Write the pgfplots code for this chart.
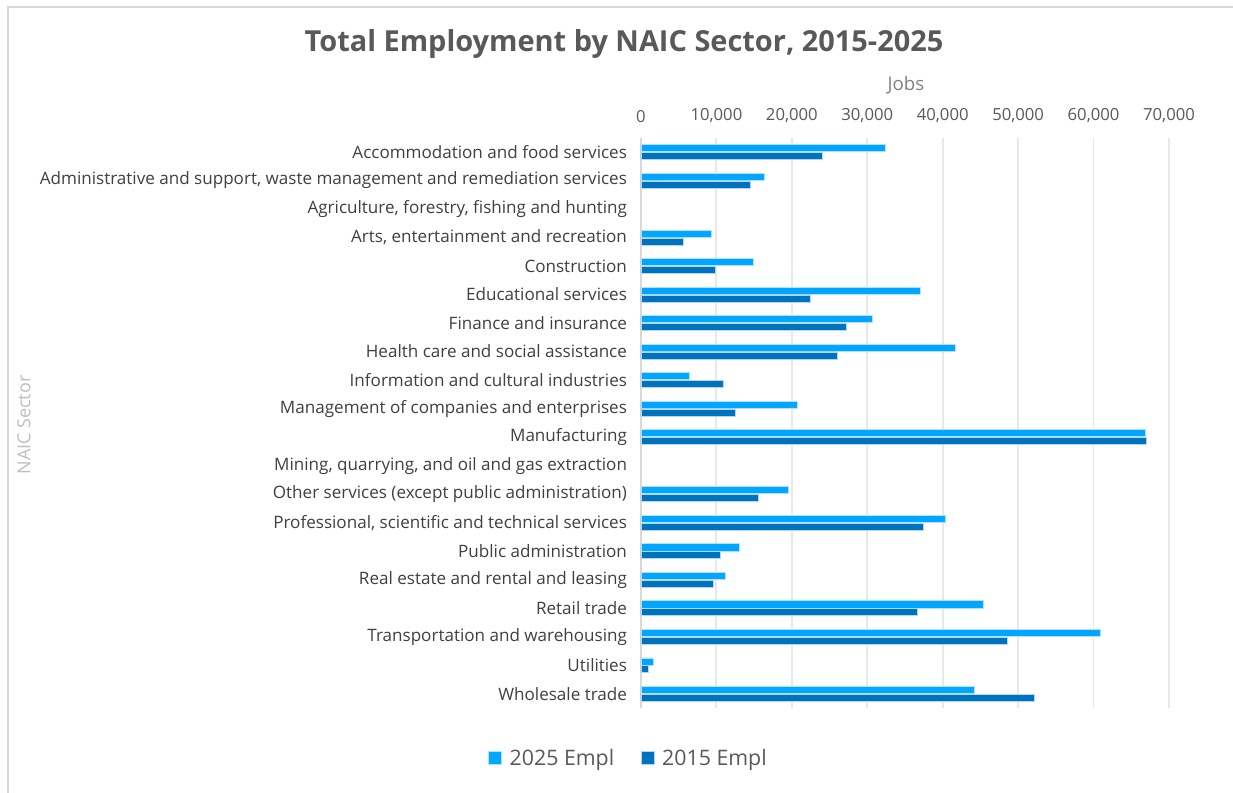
\documentclass[border=0pt]{standalone}
\usepackage{pgfplots}
\pgfplotsset{compat=1.18}
\usepackage{pgfplotstable}
\usepackage{fontspec}
\setmainfont{Open Sans}
\definecolor{lightbar}{RGB}{0,166,255}
\definecolor{darkbar}{RGB}{0,115,190}
\definecolor{labgray}{RGB}{64,64,64}
\definecolor{tickgray}{RGB}{89,89,89}
\definecolor{jobsgray}{RGB}{128,128,128}
\definecolor{sectorgray}{RGB}{191,191,191}
\definecolor{gridgray}{RGB}{232,232,232}
\definecolor{framegray}{RGB}{217,217,217}

\pgfplotstableread{
idx y2025 y2015
0 32420 23980
1 16340 14520
3 9310 5560
4 14870 9910
5 37030 22460
6 30700 27160
7 41730 26000
8 6370 10930
9 20740 12490
10 66870 67020
12 19580 15530
13 40310 37430
14 13000 10570
15 11130 9560
16 45420 36620
17 60950 48610
18 1670 960
19 44210 52150
}\datatable

\begin{document}
\begin{tikzpicture}
\useasboundingbox (0,0) rectangle (924.75pt,594.75pt);
\fill[white] (0,0) rectangle (924.75pt,594.75pt);
\draw[framegray, line width=1.6pt] (5.8pt,0) -- (5.8pt,589.4pt) -- (924.75pt,589.4pt);
\begin{axis}[
  at={(480.75pt,63.75pt)}, anchor=south west,
  scale only axis, width=396pt, height=427.7pt,
  xbar, bar width=5.3pt,
  xmin=0, xmax=70000, ymin=-0.5, ymax=19.5,
  y dir=reverse,
  axis x line*=top, axis y line*=left,
  x axis line style={draw=none},
  y axis line style={draw=framegray, line width=1.5pt, -},
  xtick={0,10000,...,70000},
  ytick={0,...,19},
  yticklabels={{Accommodation and food services},{Administrative and support, waste management and remediation services},{Agriculture, forestry, fishing and hunting},{Arts, entertainment and recreation},{Construction},{Educational services},{Finance and insurance},{Health care and social assistance},{Information and cultural industries},{Management of companies and enterprises},{Manufacturing},{Mining, quarrying, and oil and gas extraction},{Other services (except public administration)},{Professional, scientific and technical services},{Public administration},{Real estate and rental and leasing},{Retail trade},{Transportation and warehousing},{Utilities},{Wholesale trade}},
  major tick length=0pt,
  xmajorgrids, grid style={gridgray, line width=1.4pt},
  scaled x ticks=false,
  xticklabel style={/pgf/number format/.cd, fixed, 1000 sep={,}, assume math mode=true, /tikz/.cd, font=\fontsize{12.5}{14}\selectfont, text=tickgray, yshift=8pt},
  yticklabel style={font=\fontsize{12.8}{14}\selectfont, text=labgray, xshift=-7pt},
  legend style={at={(-0.023,-0.088)}, anchor=center, legend columns=2, draw=none, fill=none, font=\fontsize{16}{18}\selectfont, text=tickgray, /tikz/every even column/.append style={column sep=18pt}},
  legend image code/.code={\fill[#1] (0pt,-4.8pt) rectangle (9.6pt,4.8pt); \path (13.5pt,0pt);},
  clip=false,
]
\addplot[fill=lightbar, draw={rgb,255:red,180;green,225;blue,255}, line width=0.5pt, bar shift=2.9pt] table[x=y2025, y=idx] {\datatable};
\addplot[fill=darkbar, draw={rgb,255:red,180;green,215;blue,240}, line width=0.5pt, bar shift=-2.9pt] table[x=y2015, y=idx] {\datatable};
\legend{2025 Empl, 2015 Empl}
\end{axis}
\node[font=\bfseries\fontsize{21.7}{26}\selectfont, text=tickgray] at (468pt,561.5pt) {Total Employment by NAIC Sector, 2015-2025};
\node[font=\fontsize{14}{16}\selectfont, text=jobsgray] at (679.5pt,531pt) {Jobs};
\node[font=\fontsize{13.5}{16}\selectfont, text=sectorgray, rotate=90] at (18pt,276pt) {NAIC Sector};
\end{tikzpicture}
\end{document}
